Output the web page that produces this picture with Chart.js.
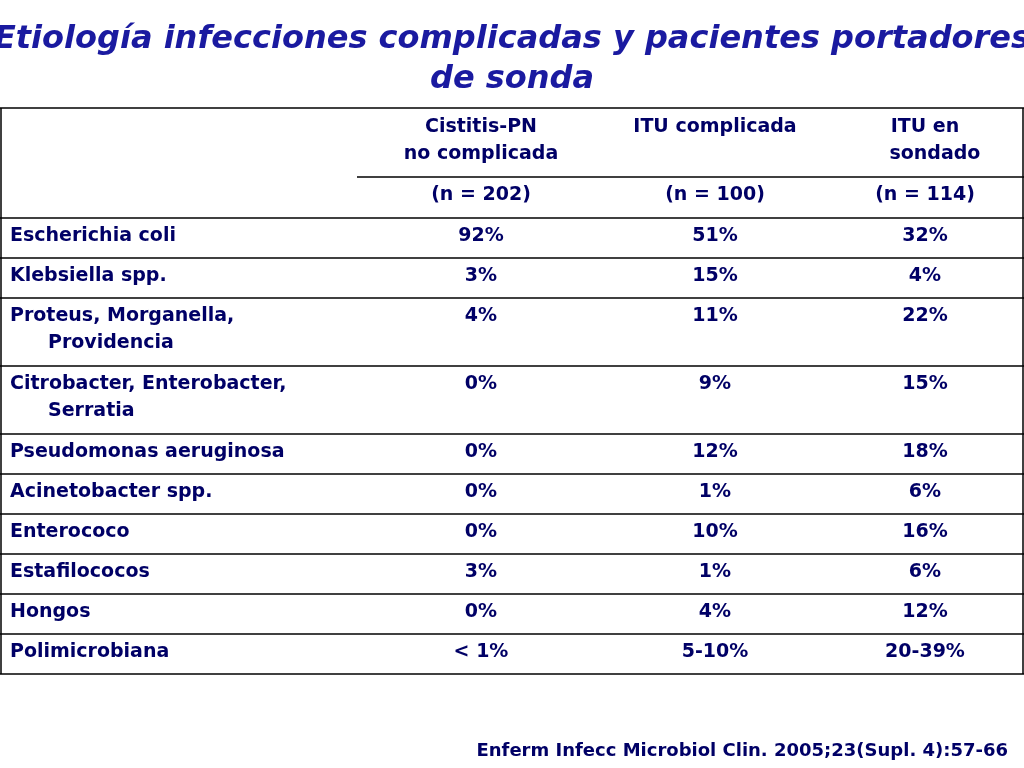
<!DOCTYPE html>
<html><head><meta charset="utf-8">
<script src="https://cdn.jsdelivr.net/npm/chart.js@4/dist/chart.umd.min.js"></script>
<style>html,body{margin:0;padding:0;background:#fff}canvas{display:block}</style>
</head><body>
<canvas id="c" width="1024" height="768"></canvas>
<script>
const title = ["Etiología infecciones complicadas y pacientes portadores", "de sonda"];
const columns = [["Cistitis-PN", "no complicada"], ["ITU complicada"], ["ITU en", "   sondado"]];
const counts = ["(n = 202)", "(n = 100)", "(n = 114)"];
const categories = [["Escherichia coli"], ["Klebsiella spp."], ["Proteus, Morganella,", "Providencia"], ["Citrobacter, Enterobacter,", "Serratia"], ["Pseudomonas aeruginosa"], ["Acinetobacter spp."], ["Enterococo"], ["Estafilococos"], ["Hongos"], ["Polimicrobiana"]];
const cistitis = ["92%", "3%", "4%", "0%", "0%", "0%", "0%", "3%", "0%", "< 1%"];
const ituComplicada = ["51%", "15%", "11%", "9%", "12%", "1%", "10%", "1%", "4%", "5-10%"];
const ituSondado = ["32%", "4%", "22%", "15%", "18%", "6%", "16%", "6%", "12%", "20-39%"];
const source = "Enferm Infecc Microbiol Clin. 2005;23(Supl. 4):57-66";

const NAVY = "#000066", BLUE = "#1a1aa0";
const tablePlugin = {
  id: "table",
  afterDraw(chart) {
    const ctx = chart.ctx, X = v => chart.scales.x.getPixelForValue(v), Y = v => chart.scales.y.getPixelForValue(v);
    ctx.save();
    ctx.fillStyle = BLUE; ctx.textAlign = "center"; ctx.textBaseline = "middle";
    ctx.font = "italic bold 32px 'DejaVu Sans'";
    title.forEach((t, i) => ctx.fillText(t, X(512), Y(40 + i * 40)));
    ctx.strokeStyle = "#000"; ctx.lineWidth = 1.5;
    const line = (x1, y1, x2, y2) => { ctx.beginPath(); ctx.moveTo(X(x1), Y(y1)); ctx.lineTo(X(x2), Y(y2)); ctx.stroke(); };
    // row boundaries
    const tops = [218]; categories.forEach(c => tops.push(tops[tops.length - 1] + (c.length > 1 ? 68 : 40)));
    line(0, 108, 1024, 108);
    line(357, 177, 1024, 177);
    tops.forEach(t => line(0, t, 1024, t));
    line(1, 108, 1, tops[tops.length - 1]); line(1023, 108, 1023, tops[tops.length - 1]);
    ctx.fillStyle = NAVY; ctx.font = "bold 19px 'DejaVu Sans'";
    const cx = [481, 715, 925];
    columns.forEach((col, i) => col.forEach((t, j) => ctx.fillText(t, X(cx[i] + (i === 2 && j === 1 ? 0 : 0)), Y(127 + j * 27))));
    counts.forEach((t, i) => ctx.fillText(t, X(cx[i]), Y(195)));
    const series = [cistitis, ituComplicada, ituSondado];
    categories.forEach((c, r) => {
      const y0 = tops[r] + 18;
      ctx.textAlign = "left";
      c.forEach((t, j) => ctx.fillText(t, X(j ? 48 : 10), Y(y0 + j * 27)));
      ctx.textAlign = "center";
      series.forEach((s, i) => ctx.fillText(s[r], X(cx[i]), Y(y0)));
    });
    ctx.textAlign = "right"; ctx.font = "bold 18px 'DejaVu Sans'";
    ctx.fillText(source, X(1008), Y(751));
    ctx.restore();
  }
};
new Chart(document.getElementById("c"), {
  type: "scatter",
  data: { datasets: [{ data: [] }] },
  options: {
    responsive: false, animation: false, devicePixelRatio: 1,
    layout: { padding: 0 },
    plugins: { legend: { display: false }, tooltip: { enabled: false } },
    scales: {
      x: { type: "linear", min: 0, max: 1024, display: false },
      y: { type: "linear", min: 0, max: 768, reverse: true, display: false }
    }
  },
  plugins: [tablePlugin]
});
</script>
</body></html>
